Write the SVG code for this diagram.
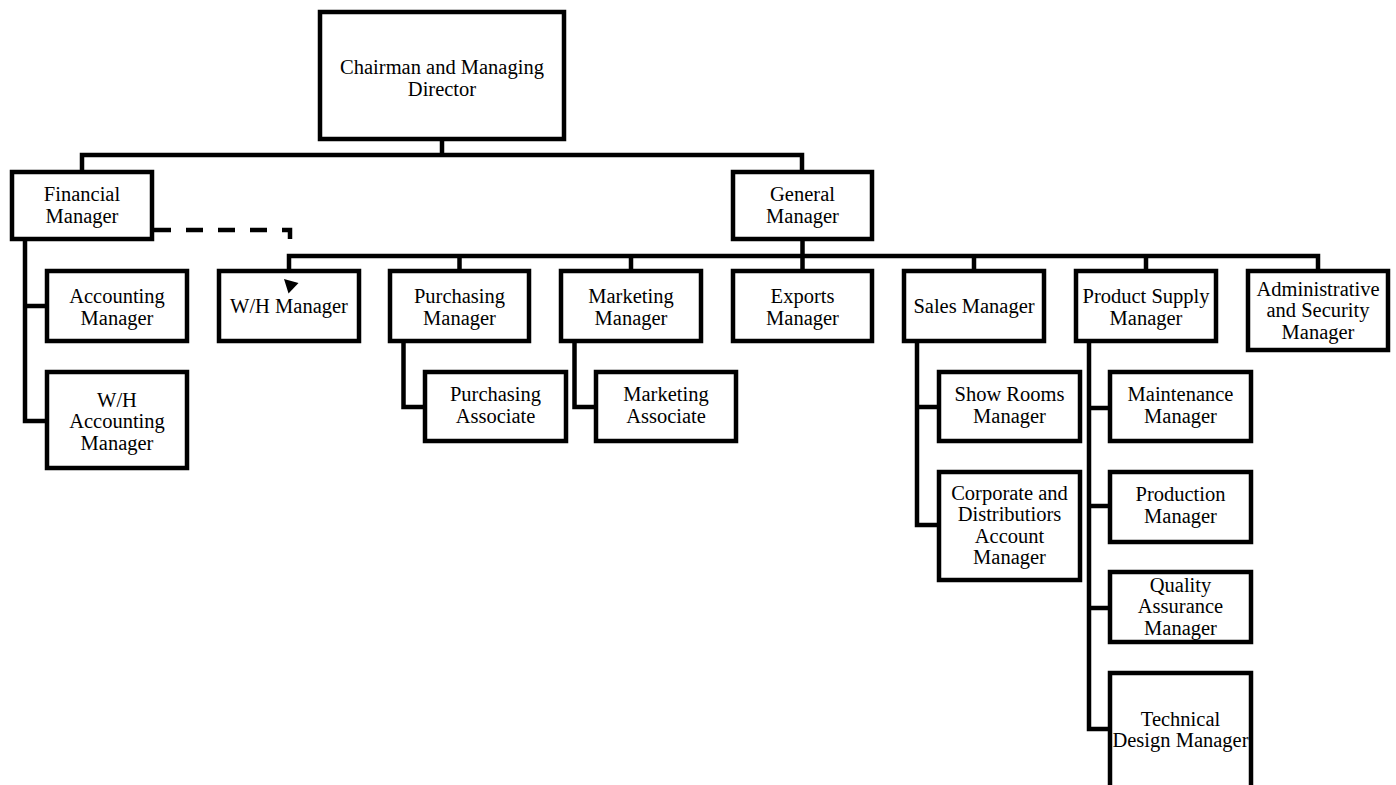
<svg xmlns="http://www.w3.org/2000/svg" width="1396" height="785" viewBox="0 0 1396 785">
<style>
.box{fill:#fff;stroke:#000;stroke-width:4.5;stroke-linejoin:miter}
.ln{fill:none;stroke:#000;stroke-width:4.5;stroke-linejoin:miter;stroke-linecap:butt}
.dash{fill:none;stroke:#000;stroke-width:4.5;stroke-dasharray:17 15;stroke-linecap:butt}
text{font-family:"Liberation Serif","Times New Roman",serif;font-size:20.5px;fill:#000;text-anchor:middle}
</style>
<rect width="1396" height="785" fill="#fff"/>
<g id="nodes">
<g id="chairman"><rect class="box" x="320" y="12" width="244" height="127"/><text x="442" y="74">Chairman and Managing</text><text x="442" y="96">Director</text></g>
<g id="financial"><rect class="box" x="12" y="172" width="140" height="67"/><text x="82" y="201">Financial</text><text x="82" y="223">Manager</text></g>
<g id="general"><rect class="box" x="733" y="172" width="139" height="67"/><text x="802.5" y="201">General</text><text x="802.5" y="223">Manager</text></g>
<g id="accounting"><rect class="box" x="47" y="271" width="140" height="70"/><text x="117" y="303">Accounting</text><text x="117" y="325">Manager</text></g>
<g id="wh-accounting"><rect class="box" x="47" y="372" width="140" height="96"/><text x="117" y="407">W/H</text><text x="117" y="428">Accounting</text><text x="117" y="450">Manager</text></g>
<g id="wh-manager"><rect class="box" x="219" y="271" width="140" height="70"/><text x="289" y="313">W/H Manager</text></g>
<g id="purchasing"><rect class="box" x="390" y="271" width="139" height="70"/><text x="459.5" y="303">Purchasing</text><text x="459.5" y="325">Manager</text></g>
<g id="marketing"><rect class="box" x="561" y="271" width="140" height="70"/><text x="631" y="303">Marketing</text><text x="631" y="325">Manager</text></g>
<g id="exports"><rect class="box" x="733" y="271" width="139" height="70"/><text x="802.5" y="303">Exports</text><text x="802.5" y="325">Manager</text></g>
<g id="sales"><rect class="box" x="904" y="271" width="140" height="70"/><text x="974" y="313">Sales Manager</text></g>
<g id="product-supply"><rect class="box" x="1076" y="271" width="140" height="70"/><text x="1146" y="303">Product Supply</text><text x="1146" y="325">Manager</text></g>
<g id="admin"><rect class="box" x="1248" y="271" width="140" height="79"/><text x="1318" y="296">Administrative</text><text x="1318" y="317">and Security</text><text x="1318" y="339">Manager</text></g>
<g id="purchasing-associate"><rect class="box" x="425" y="372" width="141" height="69"/><text x="495.5" y="401">Purchasing</text><text x="495.5" y="423">Associate</text></g>
<g id="marketing-associate"><rect class="box" x="596" y="372" width="140" height="69"/><text x="666" y="401">Marketing</text><text x="666" y="423">Associate</text></g>
<g id="show-rooms"><rect class="box" x="939" y="372" width="141" height="69"/><text x="1009.5" y="401">Show Rooms</text><text x="1009.5" y="423">Manager</text></g>
<g id="corporate"><rect class="box" x="939" y="472" width="141" height="108"/><text x="1009.5" y="500">Corporate and</text><text x="1009.5" y="521">Distributiors</text><text x="1009.5" y="543">Account</text><text x="1009.5" y="564">Manager</text></g>
<g id="maintenance"><rect class="box" x="1110" y="372" width="141" height="69"/><text x="1180.5" y="401">Maintenance</text><text x="1180.5" y="423">Manager</text></g>
<g id="production"><rect class="box" x="1110" y="472" width="141" height="70"/><text x="1180.5" y="501">Production</text><text x="1180.5" y="523">Manager</text></g>
<g id="quality"><rect class="box" x="1110" y="572" width="141" height="70"/><text x="1180.5" y="592">Quality</text><text x="1180.5" y="613">Assurance</text><text x="1180.5" y="635">Manager</text></g>
<g id="technical"><rect class="box" x="1110" y="673" width="141" height="120"/><text x="1180.5" y="726">Technical</text><text x="1180.5" y="747">Design Manager</text></g>
</g>
<g id="connectors">
<path class="ln" d="M442,141 V155 M82,170 V155 H802 V170"/>
<path class="ln" d="M802.5,241 V256 M289,270 V256 H1318 V270 M459.5,256 V270 M631,256 V270 M802.5,256 V270 M974,256 V270 M1146,256 V270"/>
<path class="ln" d="M25,241 V421 H45 M25,306 H45"/>
<path class="ln" d="M403.5,343 V407 H423"/>
<path class="ln" d="M574.5,343 V407 H594"/>
<path class="ln" d="M917,343 V525 H937 M917,407 H937"/>
<path class="ln" d="M1089,343 V729 H1108 M1089,408 H1108 M1089,506 H1108 M1089,608 H1108"/>
<path class="dash" d="M154,230 H290 V239"/>
<polygon points="284,279 298.5,283 288.5,293.5" fill="#000"/>
</g>
</svg>
